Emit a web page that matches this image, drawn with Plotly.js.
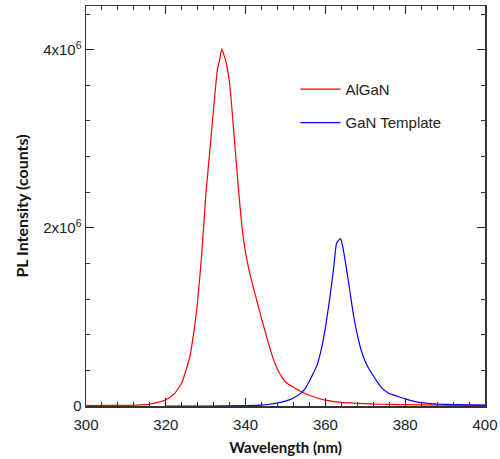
<!DOCTYPE html>
<html>
<head>
<meta charset="utf-8">
<script src="https://cdn.plot.ly/plotly-3.0.1.min.js"></script>
<style>html,body{margin:0;padding:0;background:#fff;}#chart{width:500px;height:459px;}</style>
</head>
<body>
<div id="chart"></div>
<script>
// AlGaN spectrum (wavelength nm, intensity counts x1e6)
var algan_wl = [300,305,310,314,316,318,320,322,324,326,327,328,329,330,331,332,333,333.5,334,334.5,335,336,337,338,339,340,341,342,343,344,345,346,347,348,349,350,352,354,356,358,360,364,368,372,376,380,390,400];
var algan_I  = [0.005,0.006,0.008,0.012,0.02,0.04,0.07,0.13,0.26,0.55,0.82,1.19,1.70,2.35,2.85,3.35,3.80,3.88,4.01,3.95,3.88,3.62,3.10,2.55,2.05,1.72,1.50,1.32,1.15,0.98,0.82,0.66,0.52,0.41,0.33,0.27,0.21,0.16,0.12,0.09,0.065,0.04,0.03,0.022,0.018,0.015,0.01,0.008];
// GaN Template spectrum
var gan_wl = [320,330,340,344,346,348,350,352,354,355,356,357,358,359,360,361,362,362.8,363.3,363.8,364.3,365,366,367,368,369,370,371,372,373,374,375,376,378,380,382,384,386,388,390,395,400];
var gan_I  = [0.0,0.0,0.005,0.01,0.02,0.035,0.055,0.09,0.15,0.20,0.28,0.37,0.47,0.64,0.88,1.18,1.52,1.83,1.86,1.88,1.80,1.62,1.33,1.03,0.80,0.62,0.50,0.41,0.34,0.27,0.21,0.17,0.14,0.11,0.08,0.055,0.037,0.028,0.022,0.018,0.012,0.01];
var yTickVals = [0, 2e6, 4e6];
var yTickText = ['0', '2x10<sup>6</sup>', '4x10<sup>6</sup>'];
var names = ['AlGaN', 'GaN Template'];

function scale(a){ return a.map(function(v){ return v*1e6; }); }

var traces = [
  {x: algan_wl, y: scale(algan_I), type:'scatter', mode:'lines', name:names[0], legendgroup:'a',
   line:{color:'#ff0000', width:1.2, shape:'spline', smoothing:0.5}},
  {x: gan_wl, y: scale(gan_I), type:'scatter', mode:'lines', name:names[1], legendgroup:'b',
   line:{color:'#0000ff', width:1.2, shape:'spline', smoothing:0.5}}
];

var axisFont = {family:'Liberation Sans, Arial, sans-serif', size:15, color:'#222'};
var xTitleFont = {family:'Lato, Open Sans, sans-serif', size:15, color:'#111', weight:'bold'};
var yTitleFont = {family:'Lato, Open Sans, sans-serif', size:16, color:'#111', weight:'bold'};

var layout = {
  width:500, height:459,
  margin:{l:86, r:15, t:6, b:53},
  paper_bgcolor:'#fff', plot_bgcolor:'#fff',
  showlegend:true,
  legend:{x:0.525, y:0.833, xanchor:'left', yanchor:'top', bgcolor:'rgba(0,0,0,0)',
    font:{family:'Liberation Sans, Arial, sans-serif', size:15, color:'#222'},
    traceorder:'grouped', tracegroupgap:11, itemwidth:40},
  xaxis:{range:[300,400], tickmode:'linear', tick0:300, dtick:20,
    ticks:'inside', ticklen:8, tickwidth:1, tickcolor:'#222', ticklabelstandoff:4,
    minor:{tickmode:'linear', tick0:300, dtick:4, ticks:'inside', ticklen:4, tickcolor:'#333', tickwidth:1},
    showline:true, linecolor:'#333', linewidth:1.5, mirror:'ticks',
    showgrid:false, zeroline:false, tickfont:axisFont,
    title:{text:'Wavelength (nm)', font:xTitleFont, standoff:11}},
  yaxis:{range:[0,4.49e6], tickmode:'array', tickvals:yTickVals, ticktext:yTickText,
    ticks:'inside', ticklen:8, tickwidth:1, tickcolor:'#222',
    minor:{tickmode:'linear', tick0:0, dtick:400000, ticks:'inside', ticklen:4, tickcolor:'#333', tickwidth:1},
    showline:true, linecolor:'#333', linewidth:1.5, mirror:'ticks',
    showgrid:false, zeroline:false, tickfont:axisFont,
    title:{text:'PL Intensity (counts)', font:yTitleFont, standoff:10}}
};

Plotly.newPlot('chart', traces, layout, {displayModeBar:false, staticPlot:true});
</script>
</body>
</html>
